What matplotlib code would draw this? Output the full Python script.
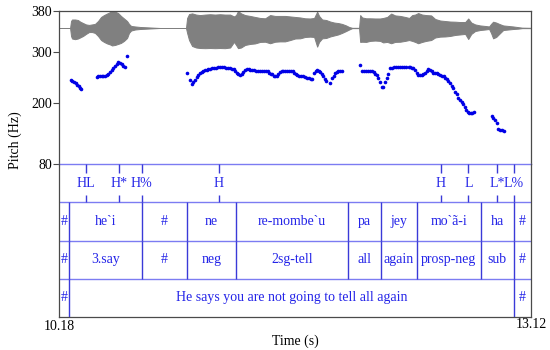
import matplotlib
matplotlib.use("Agg")
import matplotlib.pyplot as plt

plt.rcParams["font.family"] = ["Liberation Serif", "DejaVu Serif"]

# time range of the selection (s)
T_START, T_END = 10.18, 13.12

# pitch track (s, Hz), one list per voiced stretch
pitch_t1 = [10.255, 10.264, 10.273, 10.283, 10.292, 10.302, 10.311, 10.320]
pitch_f1 = [245, 242, 240, 238, 235, 233, 230, 227]

pitch_t2 = [10.415, 10.425, 10.435, 10.446, 10.456, 10.467, 10.477, 10.487,
            10.498, 10.508, 10.518, 10.529, 10.539, 10.549, 10.560, 10.570,
            10.580, 10.591, 10.606]
pitch_f2 = [251, 252, 252, 252, 252, 253, 254, 257, 260, 264, 268, 272, 277,
            280, 279, 276, 273, 270, 292]

pitch_t3 = [10.976, 10.996, 11.007, 11.015, 11.027, 11.037, 11.048, 11.059,
            11.069, 11.079, 11.090, 11.100, 11.110, 11.121, 11.133, 11.146,
            11.158, 11.171, 11.183, 11.196, 11.208, 11.221, 11.233, 11.246,
            11.258, 11.267, 11.277, 11.287, 11.297, 11.308, 11.318, 11.328,
            11.339, 11.350, 11.361, 11.370, 11.383, 11.395, 11.408, 11.420,
            11.433, 11.445, 11.457, 11.470, 11.479, 11.489, 11.498, 11.507,
            11.517, 11.526, 11.537, 11.547, 11.557, 11.568, 11.578, 11.588,
            11.601, 11.613, 11.626, 11.635, 11.644, 11.654, 11.663, 11.675,
            11.688, 11.700, 11.713, 11.725, 11.738, 11.750, 11.759, 11.769,
            11.778, 11.788, 11.797, 11.806, 11.816, 11.825, 11.834, 11.844,
            11.869, 11.879, 11.890, 11.900, 11.910, 11.920, 11.931, 11.940]
pitch_f3 = [258, 245, 236, 241, 245, 250, 255, 258, 260, 262, 264, 265, 266,
            267, 268, 268.6, 269, 269.4, 269.6, 269.6, 269.4, 269.2, 269,
            268.6, 267.2, 265.3, 262.9, 259.4, 255.5, 254.5, 256.5, 260.4,
            264.3, 265.7, 265.3, 264.7, 264.3, 263.7, 263.3, 262.9, 262.7,
            262.3, 262.3, 262.7, 261.4, 259.4, 257.4, 255.5, 252.5, 251.6,
            252.5, 257.4, 261, 262.3, 262.7, 262.7, 262.3, 262.3, 262.3,
            261.4, 259.4, 256.9, 254.5, 253.5, 252.5, 251.6, 250.6, 249.6,
            248.6, 247.1, 246.1, 258.4, 262.3, 263.7, 263.3, 261, 257.4,
            252.5, 247.6, 243.7, 238.2, 248, 253.5, 257.8, 260.4, 262.3,
            262.9, 262.9]

pitch_t4 = [12.056, 12.070, 12.081, 12.093, 12.106, 12.118, 12.129, 12.140,
            12.149, 12.160, 12.170, 12.180, 12.191, 12.201, 12.211, 12.222,
            12.232, 12.243, 12.255, 12.267, 12.280, 12.294, 12.305, 12.317,
            12.330, 12.342, 12.357, 12.367, 12.378, 12.388, 12.398, 12.409,
            12.419, 12.429, 12.440, 12.450, 12.461, 12.471, 12.481, 12.492,
            12.502, 12.512, 12.523, 12.533, 12.543, 12.554, 12.565, 12.575,
            12.585, 12.596, 12.606, 12.616, 12.627, 12.637, 12.648, 12.657,
            12.668, 12.679, 12.689, 12.697, 12.707, 12.716, 12.725, 12.735,
            12.744, 12.753, 12.763]
pitch_f4 = [274.1, 263.3, 262.3, 261.9, 261.7, 261.4, 262.3, 260.4, 257.4,
            254.5, 249.6, 240.2, 231.5, 231.5, 240.2, 248.6, 255.9, 267.6,
            269.2, 269.6, 269.8, 269.8, 270.2, 270.2, 270.6, 270.6, 270.8,
            270.2, 269.2, 267.6, 264.3, 258.4, 254.5, 254.5, 254.5, 255.5,
            258.4, 262.3, 265.3, 263.9, 261.4, 259.4, 258.4, 257.8, 256.5,
            254.5, 253.5, 251.6, 248.6, 245.7, 242.7, 238.2, 232.9, 228.4,
            222.1, 216.3, 208.8, 204.9, 202.1, 197.6, 191.7, 185.9, 181.9,
            180.6, 180.4, 180.8, 181.9]

pitch_t5 = [12.876, 12.886, 12.897, 12.907, 12.917, 12.928, 12.938, 12.949]
pitch_f5 = [175.0, 170.2, 165.3, 160.4, 149.6, 146.6, 145.7, 144.3]

# waveform envelope (1.0 = full height of the sound strip)
wave_t = [10.180, 10.249, 10.255, 10.261, 10.280, 10.298, 10.311, 10.330,
          10.348, 10.367, 10.386, 10.404, 10.423, 10.442, 10.460, 10.479,
          10.498, 10.510, 10.529, 10.548, 10.566, 10.585, 10.604, 10.616,
          10.629, 10.654, 10.685, 10.747, 10.809, 10.971, 10.978, 10.990,
          11.009, 11.034, 11.059, 11.090, 11.121, 11.152, 11.183, 11.214,
          11.246, 11.270, 11.283, 11.295, 11.314, 11.339, 11.370, 11.401,
          11.433, 11.464, 11.495, 11.526, 11.557, 11.588, 11.620, 11.651,
          11.682, 11.713, 11.744, 11.769, 11.788, 11.800, 11.819, 11.844,
          11.869, 11.894, 11.919, 11.943, 11.968, 11.987, 12.006, 12.049,
          12.056, 12.068, 12.093, 12.118, 12.149, 12.180, 12.199, 12.224,
          12.249, 12.274, 12.305, 12.336, 12.361, 12.380, 12.398, 12.417,
          12.442, 12.467, 12.498, 12.523, 12.554, 12.585, 12.616, 12.648,
          12.679, 12.710, 12.729, 12.748, 12.772, 12.803, 12.834, 12.859,
          12.871, 12.884, 12.903, 12.922, 12.947, 12.978, 13.009, 13.040,
          13.065, 13.120]
wave_top = [0, 0, 0.41, 0.50, 0.50, 0.47, 0.38, 0.29, 0.21, 0.18, 0.21, 0.24,
            0.41, 0.65, 0.76, 0.85, 0.94, 1.0, 0.97, 0.88, 0.71, 0.56, 0.41,
            0.24, 0.12, 0.09, 0.06, 0.03, 0, 0, 0.59, 0.82, 0.86, 0.79, 0.76,
            0.79, 0.81, 0.79, 0.81, 0.79, 0.79, 0.68, 0.76, 1.0, 0.86, 0.76,
            0.71, 0.65, 0.59, 0.57, 0.76, 0.71, 0.71, 0.71, 0.68, 0.65, 0.62,
            0.57, 0.56, 0.59, 0.96, 0.71, 0.50, 0.47, 0.38, 0.32, 0.29, 0.24,
            0.15, 0.06, 0.01, 0.01, 0.76, 0.62, 0.57, 0.57, 0.56, 0.56, 0.59,
            0.65, 0.85, 0.74, 0.71, 0.65, 0.59, 0.76, 0.79, 0.88, 0.79, 0.76,
            0.74, 0.53, 0.44, 0.41, 0.38, 0.37, 0.35, 0.35, 0.56, 0.32, 0.21,
            0.15, 0.12, 0.09, 0.24, 0.37, 0.32, 0.24, 0.15, 0.12, 0.09, 0.05,
            0.02, 0.01]
wave_bot = [0, 0, 0.47, 0.62, 0.66, 0.62, 0.56, 0.47, 0.35, 0.24, 0.24, 0.29,
            0.47, 0.71, 0.82, 0.91, 0.97, 1.03, 1.0, 0.94, 0.88, 0.76, 0.59,
            0.29, 0.15, 0.09, 0.06, 0.03, 0, 0, 0.29, 0.71, 1.06, 1.15, 1.18,
            1.19, 1.18, 1.19, 1.18, 1.19, 1.15, 0.82, 1.0, 1.19, 1.15, 1.0,
            0.94, 0.91, 0.82, 0.81, 0.90, 0.81, 0.79, 0.79, 0.71, 0.62, 0.61,
            0.53, 0.51, 0.53, 1.10, 0.82, 0.61, 0.59, 0.50, 0.44, 0.38, 0.29,
            0.18, 0.09, 0.01, 0.01, 0.82, 0.81, 0.82, 0.76, 0.74, 0.76, 0.85,
            0.82, 0.90, 0.82, 0.81, 0.76, 0.71, 0.76, 0.82, 0.90, 0.82, 0.76,
            0.71, 0.56, 0.51, 0.50, 0.47, 0.41, 0.38, 0.35, 0.65, 0.35, 0.18,
            0.12, 0.09, 0.06, 0.29, 0.61, 0.53, 0.35, 0.12, 0.09, 0.06, 0.04,
            0.01, 0.01]

# TextGrid tiers
tone_times = [10.350, 10.552, 10.695, 11.177, 12.558, 12.730, 12.911, 13.013]
tone_labels = ["HL", "H*", "H%", "H", "H", "L", "L*", "L%"]

word_bounds = [10.18, 10.244, 10.695, 10.976, 11.281, 11.979, 12.188, 12.409,
               12.807, 13.013, 13.12]
word_labels = ["#", "he`i", "#", "ne", "re-mombe`u", "pa", "jey", "mo`ã-i",
               "ha", "#"]

gloss_bounds = [10.18, 10.244, 10.699, 10.976, 11.281, 11.979, 12.188,
                12.409, 12.807, 13.013, 13.12]
gloss_labels = ["#", "3.say", "#", "neg", "2sg-tell", "all", "again",
                "prosp-neg", "sub", "#"]

trans_bounds = [10.18, 10.244, 13.013, 13.12]
trans_labels = ["#", "He says you are not going to tell all again", "#"]

TEXT_BLUE = "#2424e8"
LINE_BLUE = "#3a3ad8"
SEP_BLUE = "#7c7cf2"
FRAME = "#4a4a4a"
FS = 10

fig = plt.figure(figsize=(5.5, 3.5), dpi=100)

# --- sound + pitch panel
ax = fig.add_axes([59 / 550, 1 - 164 / 350, 472 / 550, 153 / 350])
ax.set_xlim(T_START, T_END)
ax.set_ylim(80, 380)

wave_center, wave_scale = 346.7, 33.3
ax.fill_between(wave_t,
                [wave_center + a * wave_scale for a in wave_top],
                [wave_center - a * wave_scale for a in wave_bot],
                color="#808080", lw=0.7)

for ts, fs in [(pitch_t1, pitch_f1), (pitch_t2, pitch_f2), (pitch_t3, pitch_f3),
               (pitch_t4, pitch_f4), (pitch_t5, pitch_f5)]:
    ax.plot(ts, fs, "o", ms=2.6, color="#0000e6", mec="none")

ax.set_yticks([80, 200, 300, 380])
ax.set_xticks([])
ax.tick_params(axis="y", direction="out", length=4, width=0.8, color=FRAME,
               labelsize=FS, pad=1)
for side in ["left", "top", "right"]:
    ax.spines[side].set_color(FRAME)
    ax.spines[side].set_linewidth(0.9)
ax.spines["bottom"].set_color(SEP_BLUE)
ax.spines["bottom"].set_linewidth(1.0)

# --- TextGrid panel
tg = fig.add_axes([59 / 550, 1 - 317 / 350, 472 / 550, 153 / 350])
tg.set_xlim(T_START, T_END)
tg.set_ylim(4, 0)
tg.set_xticks([])
tg.set_yticks([])
tg.patch.set_alpha(0)
for side in ["left", "bottom", "right"]:
    tg.spines[side].set_color(FRAME)
    tg.spines[side].set_linewidth(0.9)
tg.spines["top"].set_visible(False)

tg.hlines([1, 2, 3], T_START, T_END, color=SEP_BLUE, lw=1.0)

# tone tier (point tier)
tg.vlines(tone_times, 0, 0.23, color=LINE_BLUE, lw=1.0)
tg.vlines(tone_times, 0.81, 1.0, color=LINE_BLUE, lw=1.0)
for t, lab in zip(tone_times, tone_labels):
    tg.text(t, 0.5, lab, ha="center", va="center", color=TEXT_BLUE, fontsize=FS)

# interval tiers
for row, (bounds, labels) in enumerate([(word_bounds, word_labels),
                                        (gloss_bounds, gloss_labels),
                                        (trans_bounds, trans_labels)], start=1):
    tg.vlines(bounds[1:-1], row, row + 1, color=LINE_BLUE, lw=1.0)
    for lo, hi, lab in zip(bounds[:-1], bounds[1:], labels):
        tg.text((lo + hi) / 2, row + 0.5, lab, ha="center", va="center",
                color=TEXT_BLUE, fontsize=FS)

# time range and axis labels
fig.text(59 / 550, 1 - 327 / 350, f"{T_START:.2f}", ha="center", va="center",
         fontsize=FS)
fig.text(531 / 550, 1 - 325 / 350, f"{T_END:.2f}", ha="center", va="center",
         fontsize=FS)
fig.text(295 / 550, 1 - 341 / 350, "Time (s)", ha="center", va="center",
         fontsize=FS)
fig.text(15 / 550, 1 - 140 / 350, "Pitch (Hz)", ha="center", va="center",
         rotation=90, fontsize=FS)

fig.savefig("out.png", dpi=100)
